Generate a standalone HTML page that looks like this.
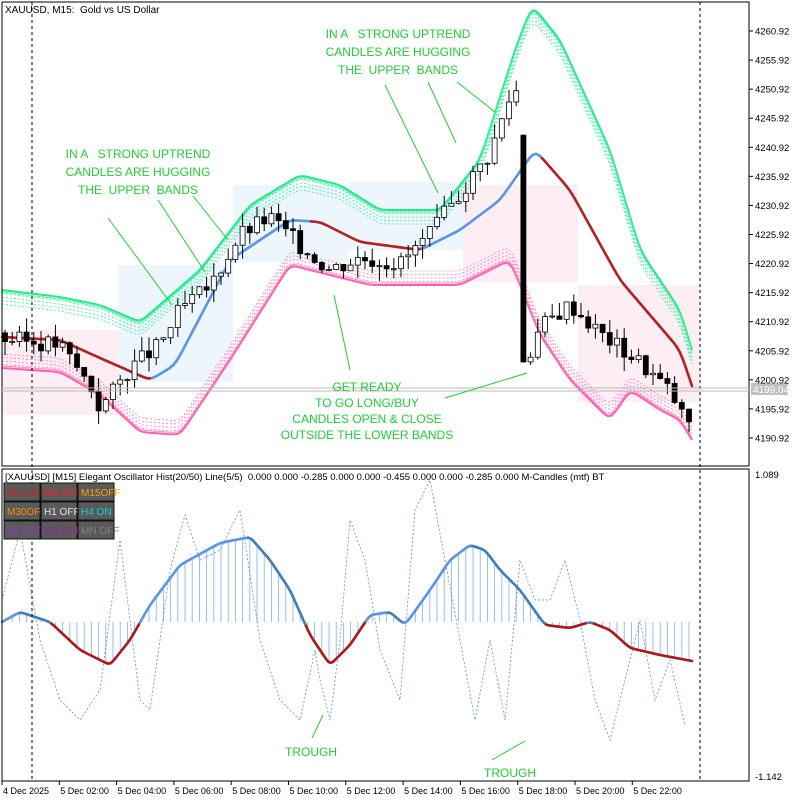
<!DOCTYPE html><html><head><meta charset="utf-8"><style>
body{margin:0;background:#fff;width:797px;height:800px;overflow:hidden;font-family:"Liberation Sans",sans-serif}
svg text{font-family:"Liberation Sans",sans-serif;white-space:pre}
</style></head><body>
<svg id="s" width="797" height="800" xmlns="http://www.w3.org/2000/svg">
<rect width="797" height="800" fill="#fff"/>
<g id="bg"></g><g id="bands"></g><g id="candles"></g><g id="osc"></g>
<rect x="2" y="2" width="747" height="464" fill="none" stroke="#000"/>
<rect x="2" y="469" width="747" height="312" fill="none" stroke="#000"/>
<line x1="32" y1="2" x2="32" y2="781" stroke="#000" stroke-dasharray="3,3"/>
<line x1="700" y1="2" x2="700" y2="781" stroke="#000" stroke-dasharray="3,3"/>
<line x1="2" y1="388" x2="749" y2="388" stroke="#bbb"/>
<line x1="2" y1="391" x2="749" y2="391" stroke="#bbb"/>
<rect x="751" y="383" width="37" height="12" fill="#c0c0c0"/>
<text x="753" y="393" font-size="10" fill="#fff">4199.04</text>
<g id="axes" font-size="9.5" fill="#000"></g>
<text x="5" y="13" font-size="10">XAUUSD, M15:  Gold vs US Dollar</text>
<text x="5" y="480" font-size="9.5">[XAUUSD] [M15] Elegant Oscillator Hist(20/50) Line(5/5)  0.000 0.000 -0.285 0.000 0.000 -0.455 0.000 0.000 -0.285 0.000 M-Candles (mtf) BT</text>
<g id="btns" font-size="10"></g>
<g fill="#22cc33" font-size="12" text-anchor="middle">
<text x="138" y="158">IN A   STRONG UPTREND</text><text x="138" y="176">CANDLES ARE HUGGING</text><text x="138" y="194">THE  UPPER  BANDS</text>
<text x="398" y="38">IN A   STRONG UPTREND</text><text x="398" y="56">CANDLES ARE HUGGING</text><text x="398" y="74">THE  UPPER  BANDS</text>
<text x="367" y="391">GET READY</text><text x="367" y="407">TO GO LONG/BUY</text><text x="367" y="423">CANDLES OPEN &amp; CLOSE</text><text x="367" y="439">OUTSIDE THE LOWER BANDS</text>
<text x="311" y="756">TROUGH</text><text x="510" y="777">TROUGH</text>
</g>
<g stroke="#22cc33" stroke-width="1">
<line x1="108" y1="218" x2="172" y2="305"/><line x1="158" y1="200" x2="205" y2="272"/><line x1="193" y1="196" x2="228" y2="240"/>
<line x1="385" y1="85" x2="438" y2="193"/><line x1="428" y1="82" x2="456" y2="143"/><line x1="457" y1="82" x2="495" y2="112"/>
<line x1="334" y1="295" x2="350" y2="370"/><line x1="445" y1="398" x2="527" y2="373"/>
<line x1="312" y1="738" x2="323" y2="715"/><line x1="492" y1="760" x2="525" y2="741"/>
</g>
</svg>
<script>
const S=document.getElementById('s'),NS='http://www.w3.org/2000/svg';
function el(p,t,a,txt){const e=document.createElementNS(NS,t);for(const k in a)e.setAttribute(k,a[k]);if(txt)e.textContent=txt;document.getElementById(p).appendChild(e);return e}
const Y=p=>31+(4260.92-p)*5.814;
[[2,118,330,415,'#fdeef3'],[118,233,265,382,'#eef6fd'],[233,348,185,262,'#eef6fd'],[348,463,182,250,'#eef6fd'],[463,578,185,282,'#fdeef3'],[578,700,285,402,'#fdeef3']].forEach(r=>el('bg','rect',{x:r[0],y:r[2],width:r[1]-r[0],height:r[3]-r[2],fill:r[4]}));
for(let i=0;i<15;i++){const p=4260.92-i*5,y=Y(p);el('axes','line',{x1:749,y1:y,x2:753,y2:y,stroke:'#000'});el('axes','text',{x:755,y:y+3.5},p.toFixed(2))}
el('axes','text',{x:755,y:478},'1.089');el('axes','text',{x:755,y:780},'-1.142');
const tl=['4 Dec 2025','5 Dec 02:00','5 Dec 04:00','5 Dec 06:00','5 Dec 08:00','5 Dec 10:00','5 Dec 12:00','5 Dec 14:00','5 Dec 16:00','5 Dec 18:00','5 Dec 20:00','5 Dec 22:00'];
tl.forEach((t,i)=>{const x=2+i*57.3;el('axes','line',{x1:x,y1:781,x2:x,y2:785,stroke:'#000'});el('axes','text',{x:x+1,y:794,'font-size':'9'},t)});
function interp(pts,x){for(let i=0;i<pts.length-1;i++){if(x>=pts[i][0]&&x<=pts[i+1][0]){const t=(x-pts[i][0])/(pts[i+1][0]-pts[i][0]);return pts[i][1]+t*(pts[i+1][1]-pts[i][1])}}return pts[pts.length-1][1]}
function smooth(pts,x0,x1,st){let a=[];for(let x=x0;x<=x1;x+=st)a.push([x,interp(pts,x)]);for(let k=0;k<3;k++){a=a.map((p,i)=>i==0||i==a.length-1?p:[p[0],(a[i-1][1]+p[1]*2+a[i+1][1])/4])}return a}
const up=[[2,290],[60,297],[100,305],[140,322],[200,270],[250,205],[300,175],[340,185],[380,210],[440,210],[480,160],[515,50],[532,5],[560,40],[610,150],[640,250],[680,310],[692,350]];
const mid=[[2,337],[60,340],[100,358],[150,380],[175,365],[230,260],[290,220],[320,222],[360,242],[420,250],[460,230],[500,200],[535,150],[570,190],[620,280],[680,350],[695,395]];
const lo=[[2,368],[60,372],[100,395],[140,432],[180,435],[230,360],[290,265],[330,275],[370,285],[460,285],[510,260],[540,335],[570,380],[610,420],[630,390],[660,410],[680,420],[695,445]];
const pth=a=>a.map((p,i)=>(i?'L':'M')+p[0].toFixed(1)+','+p[1].toFixed(1)).join('');
const U=smooth(up,2,693,3),L=smooth(lo,2,693,3),M=smooth(mid,2,693,3);
for(let k=1;k<=4;k++){el('bands','path',{d:pth(U.map(p=>[p[0],p[1]+k*3.5])),fill:'none',stroke:'#33ee99','stroke-width':0.8,'stroke-dasharray':'2,2'});el('bands','path',{d:pth(L.map(p=>[p[0],p[1]-k*3.5])),fill:'none',stroke:'#ff77bb','stroke-width':0.8,'stroke-dasharray':'2,2'})}
el('bands','path',{d:pth(U),fill:'none',stroke:'#22e88a','stroke-width':2});
el('bands','path',{d:pth(U.map(p=>[p[0],p[1]+2])),fill:'none',stroke:'#55f0aa','stroke-width':1});
el('bands','path',{d:pth(L),fill:'none',stroke:'#ff5fb0','stroke-width':2});
el('bands','path',{d:pth(L.map(p=>[p[0],p[1]-2])),fill:'none',stroke:'#ff88c4','stroke-width':1});
const segC=x=>(x<150||(x>=310&&x<420)||x>=540)?'#b52020':'#5b95e8';
for(let i=0;i<M.length-1;i++)el('bands','line',{x1:M[i][0],y1:M[i][1],x2:M[i+1][0],y2:M[i+1][1],stroke:segC(M[i][0]),'stroke-width':2.6,'stroke-linecap':'round'});
const cp=[[5,4208],[60,4207],[90,4200],[100,4196],[130,4203],[160,4207],[180,4213],[210,4217],[240,4226],[270,4229],[300,4224],[330,4220],[360,4222],[400,4221],[430,4226],[460,4233],[490,4240],[515,4252],[521,4246],[526,4204],[540,4210],[570,4214],[600,4209],[640,4204],[670,4199],[688,4193],[693,4197]];
let prev=4209;let seed=3;const rnd=()=>{seed=(seed*9301+49297)%233280;return seed/233280};
for(let x=5;x<=693;x+=7.2){let c=interp(cp,x)+(rnd()-0.5)*3;if(Math.abs(x-525)<4)c=4204;let o=prev;if(Math.abs(x-525)<4)o=4243;const hi=Math.max(o,c)+rnd()*2.5,lw=Math.min(o,c)-rnd()*2.5;
el('candles','line',{x1:x,y1:Y(hi),x2:x,y2:Y(lw),stroke:'#000'});const bull=c>o;el('candles','rect',{x:x-2.5,y:Y(Math.max(o,c)),width:5,height:Math.max(1,Math.abs(Y(o)-Y(c))),fill:bull?'#fff':'#000',stroke:'#000','stroke-width':0.8});prev=c}
const z=622;
const op=[[2,622],[20,612],[50,622],[80,650],[110,665],[130,640],[150,605],[180,565],[220,543],[250,537],[270,560],[290,590],[310,635],[330,665],[350,645],[370,615],[390,612],[405,625],[430,590],[450,560],[470,545],[485,550],[500,570],[520,590],[545,625],[570,628],[590,622],[610,630],[630,648],[660,655],[692,661]];
const O=smooth(op,2,692,2);
for(let x=5;x<=690;x+=7.2){const v=interp(op,x);el('osc','line',{x1:x,y1:z,x2:x,y2:v,stroke:'#8fb6ee','stroke-width':0.9})}
const dp=[[2,600],[20,530],[40,640],[60,700],[80,720],[100,690],[120,540],[140,700],[150,710],[170,570],[185,515],[200,560],[220,550],[240,510],[260,640],[280,700],[300,720],[315,650],[320,680],[330,720],[340,640],[350,520],[365,560],[380,650],[400,700],[415,510],[430,480],[445,560],[460,640],[475,720],[490,640],[505,720],[520,560],[535,600],[550,600],[565,560],[580,620],[595,700],[610,740],[625,680],[640,620],[655,700],[670,660],[685,725]];
el('osc','path',{d:pth(dp),fill:'none',stroke:'#5b8fd8','stroke-width':0.8,'stroke-dasharray':'2,2'});
for(let i=0;i<O.length-1;i++){const a=O[i],b=O[i+1];const c=a[1]>z+1?'#aa1a1a':(b[1]>a[1]?'#3f7fb8':'#5b95e8');el('osc','line',{x1:a[0],y1:a[1],x2:b[0],y2:b[1],stroke:c,'stroke-width':2.6,'stroke-linecap':'round'})}
const bt=[['M1 OFF','#cc2020'],['M5 OFF','#ff2020'],['M15OFF','#ffa000'],['M30OFF','#ff8c00'],['H1 OFF','#e0e0e0'],['H4 ON','#00d8d8'],['D1 OFF','#9932cc'],['W1 OFF','#a020a0'],['MN OFF','#808080']];
bt.forEach((b,i)=>{const x=4+(i%3)*37,y=483+Math.floor(i/3)*19;el('btns','rect',{x:x,y:y,width:36,height:18,fill:'#5a5a5a',stroke:'#111'});el('btns','text',{x:x+3,y:y+13,fill:b[1]},b[0])});
</script>
</body></html>
